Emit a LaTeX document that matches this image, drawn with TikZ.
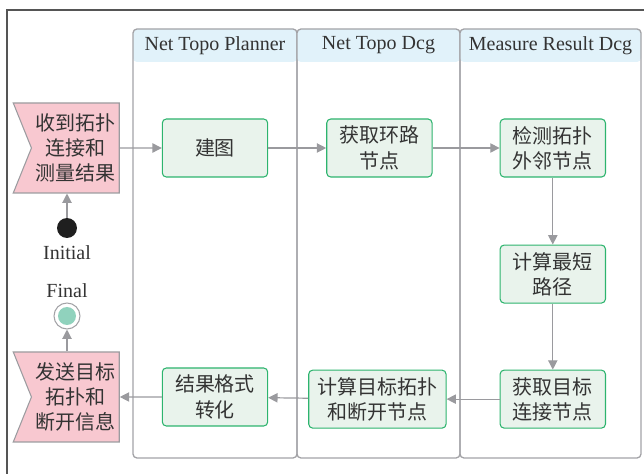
\documentclass[tikz,border=0pt]{standalone}
\usepackage{fontspec}
\setmainfont{Liberation Serif}
\newfontfamily\cjk{Noto Sans CJK SC}
\usetikzlibrary{arrows.meta,positioning,shapes.symbols}
\definecolor{FrameGray}{HTML}{555555}
\definecolor{LaneGray}{HTML}{A3A3A7}
\definecolor{HeadBlue}{HTML}{E1F2FA}
\definecolor{ActGreen}{HTML}{2DB46E}
\definecolor{ActFill}{HTML}{E9F3EC}
\definecolor{SigPink}{HTML}{F8C8D0}
\definecolor{SigEdge}{HTML}{9C9CA0}
\definecolor{FlowGray}{HTML}{9A9A9E}
\definecolor{EndTeal}{HTML}{90D2BD}
\definecolor{TextDark}{HTML}{333333}

\tikzset{
  actbox/.style={rounded corners=3pt,draw=ActGreen,fill=ActFill,line width=0.8pt,
    minimum width=79pt,minimum height=43.5pt,align=center,inner sep=2pt,
    text=TextDark,font=\cjk\fontsize{15}{19}\selectfont},
  sigbox/.style={shape=signal,signal from=west,signal to=nowhere,signal pointer angle=136,
    draw=SigEdge,fill=SigPink,line width=0.8pt,minimum width=79.5pt,minimum height=67.5pt,
    align=center,inner sep=1pt,text=TextDark,font=\cjk\fontsize{15}{19}\selectfont},
  flow/.style={-{Triangle[length=7pt,width=7pt]},draw=FlowGray,line width=0.9pt},
  lane/.style={draw=LaneGray,line width=1pt,rounded corners=3pt},
  lanehead/.style={font=\fontsize{15}{18}\selectfont,text=TextDark,inner sep=0pt},
  tag/.style={font=\fontsize{15}{18}\selectfont,text=TextDark,inner sep=0pt}
}

\begin{document}
\begin{tikzpicture}[x=0.75pt,y=-0.75pt]
  \useasboundingbox (0,0) rectangle (644,474);
  \draw[FrameGray,line width=0.8pt] (644,10) -- (7,10) -- (7,474);

  % swim lanes
  \foreach \xa/\xb/\name in {133/297/Net Topo Planner,297/460/Net Topo Dcg,460/641/Measure Result Dcg}{
    \fill[HeadBlue,rounded corners=3pt] (\xa,29) rectangle (\xb,62);
    \draw[lane] (\xa,29) rectangle (\xb,458);
    \node[lanehead] at ({(\xa+\xb)/2},45.5) {\name};
  }

  % activities
  \node[actbox] (build) at (215,148) {建图};
  \node[actbox,right=43.5pt of build] (loop) {获取环路\\节点};
  \node[actbox,right=50.25pt of loop] (detect) {检测拓扑\\外邻节点};
  \node[actbox,below=50.25pt of detect] (short) {计算最短\\路径};
  \node[actbox,below=49.5pt of short] (target) {获取目标\\连接节点};
  \node[actbox,minimum width=103pt,left=39.75pt of target] (calc) {计算目标拓扑\\和断开节点};
  \node[actbox] (format) at (215,397) {结果格式\\转化};

  % signals
  \node[sigbox,left=31.5pt of build] (recv) {收到拓扑\\连接和\\测量结果};
  \node[sigbox,left=31.5pt of format] (send) {发送目标\\拓扑和\\断开信息};

  % start and end
  \node[circle,fill=black!88,minimum size=15pt,inner sep=0pt] (init) at (67,228) {};
  \node[tag] (initlbl) at (67,253) {Initial};
  \node[circle,draw=LaneGray,fill=white,line width=0.8pt,minimum size=19.5pt,inner sep=0pt]
    (final) at (67,316) {};
  \fill[EndTeal] (final) circle (6.75pt);
  \node[tag] (finallbl) at (67,291) {Final};

  % flows
  \draw[flow] (init) -- (init |- recv.south);
  \draw[flow] (recv) -- (build);
  \draw[flow] (build) -- (loop);
  \draw[flow] (loop) -- (detect);
  \draw[flow] (detect) -- (short);
  \draw[flow] (short) -- (target);
  \draw[flow] (target) -- (calc);
  \draw[flow] (calc) -- (format);
  \draw[flow] (format) -- (send);
  \draw[flow] (final |- send.north) -- (final);
\end{tikzpicture}
\end{document}
